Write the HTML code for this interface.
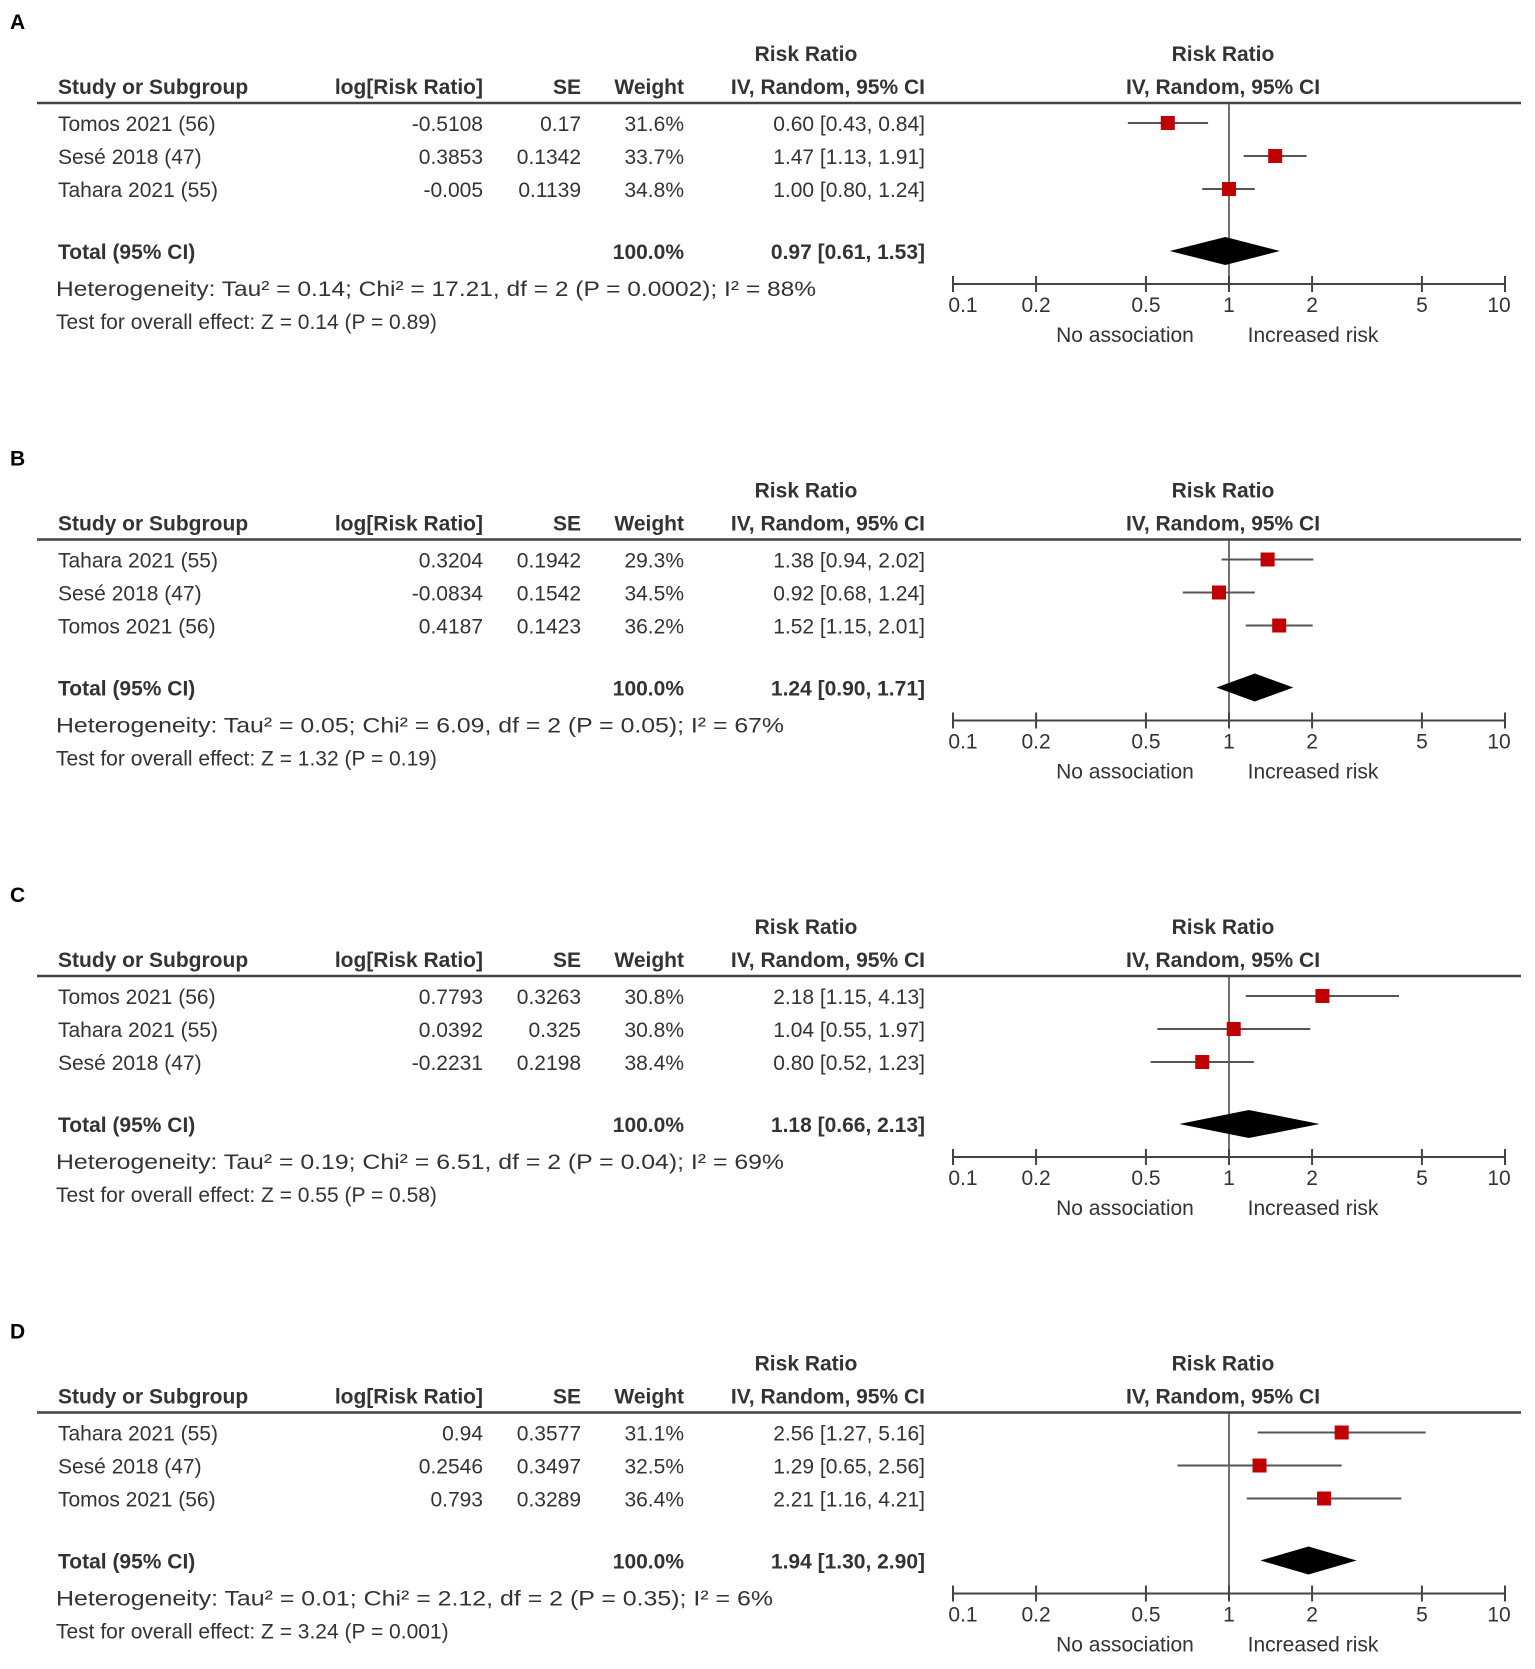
<!DOCTYPE html>
<html><head><meta charset="utf-8"><style>
body{margin:0;background:#fff}
svg{display:block}
text{font-family:"Liberation Sans",sans-serif;font-size:21px;fill:#333}
.b{font-weight:bold}
</style></head><body>
<svg id="fig" width="1535" height="1669" viewBox="0 0 1535 1669"></svg>
<script>
const panelLabels=["A","B","C","D"];
const studies=[["Tomos  2021 (56)","Sesé 2018 (47)","Tahara  2021 (55)"],["Tahara  2021 (55)","Sesé 2018 (47)","Tomos  2021 (56)"],["Tomos  2021 (56)","Tahara  2021 (55)","Sesé 2018 (47)"],["Tahara  2021 (55)","Sesé 2018 (47)","Tomos  2021 (56)"]];
const logRR=[["-0.5108","0.3853","-0.005"],["0.3204","-0.0834","0.4187"],["0.7793","0.0392","-0.2231"],["0.94","0.2546","0.793"]];
const seVals=[["0.17","0.1342","0.1139"],["0.1942","0.1542","0.1423"],["0.3263","0.325","0.2198"],["0.3577","0.3497","0.3289"]];
const weights=[["31.6%","33.7%","34.8%"],["29.3%","34.5%","36.2%"],["30.8%","30.8%","38.4%"],["31.1%","32.5%","36.4%"]];
const rr=[[0.60,1.47,1.00],[1.38,0.92,1.52],[2.18,1.04,0.80],[2.56,1.29,2.21]];
const lo=[[0.43,1.13,0.80],[0.94,0.68,1.15],[1.15,0.55,0.52],[1.27,0.65,1.16]];
const hi=[[0.84,1.91,1.24],[2.02,1.24,2.01],[4.13,1.97,1.23],[5.16,2.56,4.21]];
const totRR=[0.97,1.24,1.18,1.94];
const totLo=[0.61,0.90,0.66,1.30];
const totHi=[1.53,1.71,2.13,2.90];
const hetText=["Heterogeneity: Tau² = 0.14; Chi² = 17.21, df = 2 (P = 0.0002); I² = 88%","Heterogeneity: Tau² = 0.05; Chi² = 6.09, df = 2 (P = 0.05); I² = 67%","Heterogeneity: Tau² = 0.19; Chi² = 6.51, df = 2 (P = 0.04); I² = 69%","Heterogeneity: Tau² = 0.01; Chi² = 2.12, df = 2 (P = 0.35); I² = 6%"];
const testText=["Test for overall effect: Z = 0.14 (P = 0.89)","Test for overall effect: Z = 1.32 (P = 0.19)","Test for overall effect: Z = 0.55 (P = 0.58)","Test for overall effect: Z = 3.24 (P = 0.001)"];
const tickVals=[0.1,0.2,0.5,1,2,5,10];
const tickLabels=["0.1","0.2","0.5","1","2","5","10"];

const NS="http://www.w3.org/2000/svg";
const svg=document.getElementById('fig');
function mk(tag,attrs,parent,txt){const e=document.createElementNS(NS,tag);for(const k in attrs)e.setAttribute(k,attrs[k]);if(txt!==undefined)e.textContent=txt;(parent||svg).appendChild(e);return e;}
const X0=953,DEC=276;
function xs(v){return X0+(Math.log10(v)+1)*DEC;}
function fmt(v){return v.toFixed(2);}

for(let p=0;p<4;p++){
  const oy=p*436.5;
  const g=mk('g',{});
  
  
  let t=mk('text',{x:10,y:oy+29,class:'b',style:'fill:#000'},g,panelLabels[p]);
  
  
  const hdr=[["Study or Subgroup",58,'start',94],["log[Risk Ratio]",483,'end',94],["SE",581,'end',94],["Weight",684,'end',94],["IV, Random, 95% CI",925,'end',94],["Risk Ratio",806,'middle',61],["Risk Ratio",1223,'middle',61],["IV, Random, 95% CI",1223,'middle',94]];
  hdr.forEach(h=>{const e=mk('text',{x:h[1],y:oy+h[3],'text-anchor':h[2],class:'b'},g,h[0]);
    
    });
  const hr=mk('line',{x1:37,x2:1521,y1:oy+103,y2:oy+103,stroke:'#444','stroke-width':2.5},g);
  
  
  const nl=mk('line',{x1:xs(1),x2:xs(1),y1:oy+103,y2:oy+284,stroke:'#444','stroke-width':1.5},g);
  
  
  for(let i=0;i<3;i++){
    const y=oy+131+i*33;
    const row=[[studies[p][i],58,'start'],[logRR[p][i],483,'end'],[seVals[p][i],581,'end'],[weights[p][i],684,'end'],[fmt(rr[p][i])+" ["+fmt(lo[p][i])+", "+fmt(hi[p][i])+"]",925,'end']];
    row.forEach(c=>{const e=mk('text',{x:c[1],y:y,'text-anchor':c[2]},g,c[0]);
      
      });
    const cy=y-8;
    const ci=mk('line',{x1:xs(lo[p][i]),x2:xs(hi[p][i]),y1:cy,y2:cy,stroke:'#555','stroke-width':2},g);
    
    
    const sq=mk('rect',{x:xs(rr[p][i])-7,y:cy-7,width:14,height:14,fill:'#c00000'},g);
    
    
  }
  const ty=oy+259;
  [["Total (95% CI)",58,'start'],["100.0%",684,'end'],[fmt(totRR[p])+" ["+fmt(totLo[p])+", "+fmt(totHi[p])+"]",925,'end']].forEach(c=>{
    const e=mk('text',{x:c[1],y:ty,'text-anchor':c[2],class:'b'},g,c[0]);
    
    });
  const dy=ty-8;
  const d=mk('polygon',{points:`${xs(totLo[p])},${dy} ${xs(totRR[p])},${dy-14} ${xs(totHi[p])},${dy} ${xs(totRR[p])},${dy+14}`,fill:'#000'},g);
  
  
  let e=mk('text',{x:56,y:oy+296,textLength:Math.round(hetText[p].length*10.7),lengthAdjust:'spacingAndGlyphs'},g,hetText[p]);
  
  
  e=mk('text',{x:56,y:oy+329},g,testText[p]);
  
  
  const ay=oy+284;
  const ax=mk('line',{x1:xs(0.1),x2:xs(10),y1:ay,y2:ay,stroke:'#444','stroke-width':2},g);
  
  
  tickVals.forEach((v,k)=>{
    const tk=mk('line',{x1:xs(v),x2:xs(v),y1:ay-8,y2:ay+8,stroke:'#444','stroke-width':2},g);
    
    
    const tl=mk('text',{x:xs(v)+(k==0?10:k==6?-6:0),y:ay+28,'text-anchor':'middle'},g,tickLabels[k]);
    
    
  });
  e=mk('text',{x:1125,y:oy+342,'text-anchor':'middle'},g,"No association");
  
  
  e=mk('text',{x:1313,y:oy+342,'text-anchor':'middle'},g,"Increased risk");
  
  
}
</script>
</body></html>
